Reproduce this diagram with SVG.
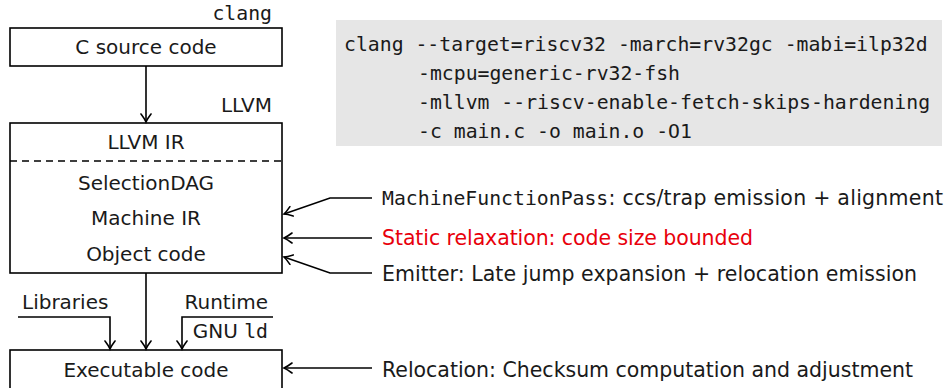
<svg xmlns="http://www.w3.org/2000/svg" width="950" height="388" viewBox="0 0 950 388">
  <style>
    .box { fill: #ffffff; stroke: #000000; stroke-width: 1.6; }
    .sans { font-family: "DejaVu Sans", "Liberation Sans", sans-serif; font-size: 20px; fill: #1a1a1a; }
    .note { font-size: 20.5px; }
    .mono { font-family: "DejaVu Sans Mono", "Liberation Mono", monospace; font-size: 19.8px; fill: #1a1a1a; }
    .red { fill: #e8000b; }
    .arrow { fill: none; stroke: #000000; stroke-width: 1.6; marker-end: url(#tip); }
  </style>
  <defs>
    <marker id="tip" markerUnits="userSpaceOnUse" viewBox="-10 -6 12 12" refX="0" refY="0" markerWidth="12" markerHeight="12" orient="auto">
      <path d="M -8,-5 Q -3,-1.2 0,0 Q -3,1.2 -8,5" fill="none" stroke="#000" stroke-width="1.6" stroke-linecap="round"/>
    </marker>
  </defs>

  <!-- command-line invocation -->
  <g id="command">
    <rect x="336" y="20" width="606" height="126" fill="#e6e6e6"/>
    <text class="mono" x="344" y="51">clang --target=riscv32 -march=rv32gc -mabi=ilp32d</text>
    <text class="mono" x="418" y="80">-mcpu=generic-rv32-fsh</text>
    <text class="mono" x="418" y="109">-mllvm --riscv-enable-fetch-skips-hardening</text>
    <text class="mono" x="418" y="138">-c main.c -o main.o -O1</text>
  </g>

  <!-- front end -->
  <g id="csource">
    <text class="mono" x="272" y="20" text-anchor="end">clang</text>
    <rect class="box" x="10" y="28" width="272" height="38"/>
    <text class="sans" x="146" y="54" text-anchor="middle">C source code</text>
  </g>

  <!-- LLVM back end -->
  <g id="llvm">
    <text class="sans" x="272" y="112" text-anchor="end">LLVM</text>
    <rect class="box" x="10" y="123" width="272" height="150"/>
    <line x1="10" y1="161" x2="282" y2="161" stroke="#000" stroke-width="1.4" stroke-dasharray="7,5"/>
    <text class="sans" x="146" y="149" text-anchor="middle">LLVM IR</text>
    <text class="sans" x="146" y="190" text-anchor="middle">SelectionDAG</text>
    <text class="sans" x="146" y="225" text-anchor="middle">Machine IR</text>
    <text class="sans" x="146" y="261" text-anchor="middle">Object code</text>
  </g>

  <!-- linker inputs -->
  <g id="libraries">
    <text class="sans" x="22" y="309">Libraries</text>
  </g>
  <g id="runtime">
    <text class="sans" x="268" y="309" text-anchor="end">Runtime</text>
    <text x="268" y="338" text-anchor="end"><tspan class="sans">GNU </tspan><tspan class="mono">ld</tspan></text>
  </g>

  <!-- final binary -->
  <g id="executable">
    <rect class="box" x="10" y="350" width="272" height="44"/>
    <text class="sans" x="146" y="377" text-anchor="middle">Executable code</text>
  </g>

  <!-- annotations -->
  <g id="notes">
    <text class="mono" x="382" y="205">MachineFunctionPass</text>
    <text class="sans note" x="608.5" y="205" textLength="334.5">: ccs/trap emission + alignment</text>
    <text class="sans note red" x="382" y="245" textLength="371">Static relaxation: code size bounded</text>
    <text class="sans note" x="382" y="281" textLength="535">Emitter: Late jump expansion + relocation emission</text>
    <text class="sans note" x="382" y="377" textLength="531">Relocation: Checksum computation and adjustment</text>
  </g>

  <!-- connectors -->
  <g id="connectors">
    <line class="arrow" x1="146" y1="66" x2="146" y2="122"/>
    <line class="arrow" x1="146" y1="273" x2="146" y2="349"/>
    <polyline class="arrow" points="18,317 110,317 110,349"/>
    <polyline class="arrow" points="273,317 182,317 182,349"/>
    <polyline class="arrow" points="372,198 330,198 284,214"/>
    <line class="arrow" x1="372" y1="238" x2="284" y2="238"/>
    <polyline class="arrow" points="372,273 330,273 284,257"/>
    <line class="arrow" x1="372" y1="368" x2="284" y2="368"/>
  </g>
</svg>
